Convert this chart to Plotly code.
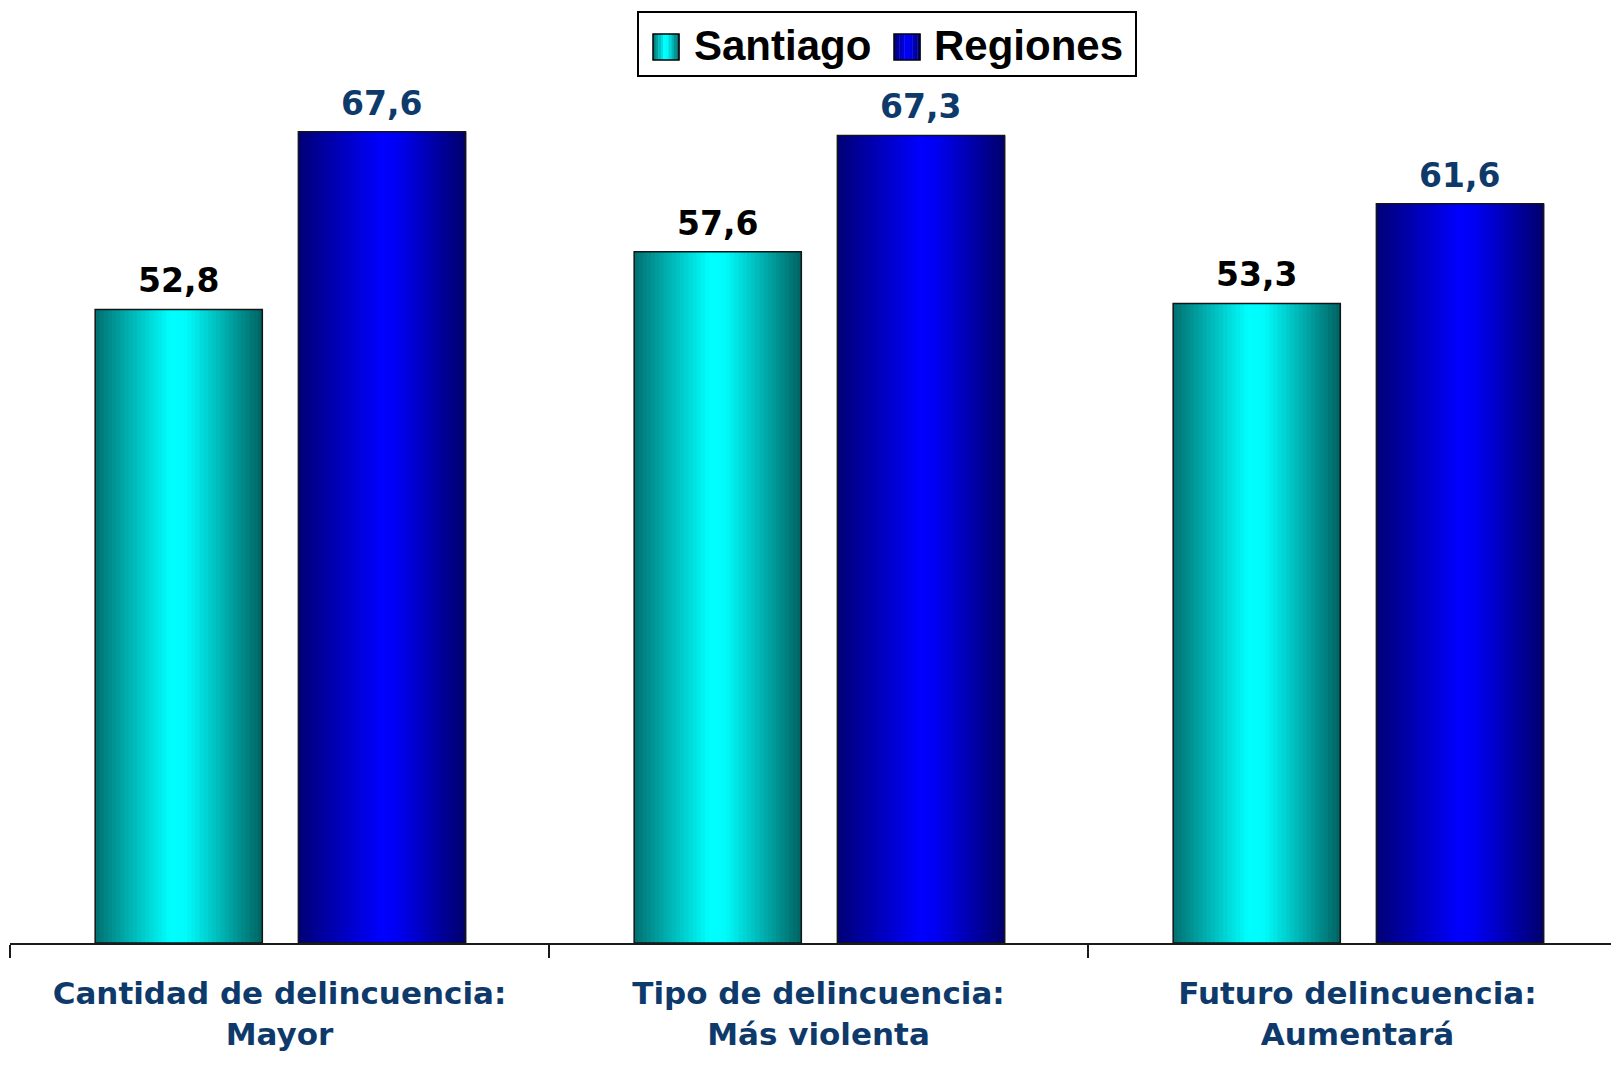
import plotly.graph_objects as go

# Data
CATEGORIES = [
    "Cantidad de delincuencia:<br>Mayor",
    "Tipo de delincuencia:<br>Más violenta",
    "Futuro delincuencia:<br>Aumentará",
]
SERIES_NAMES = ["Santiago", "Regiones"]
SANTIAGO = [52.8, 57.6, 53.3]
REGIONES = [67.6, 67.3, 61.6]

# Styles
NAVY = "#0E3A6B"
LABEL_FONT = "DejaVu Sans"
LEGEND_FONT = "Liberation Sans"
GRADIENTS = {
    "Santiago": [(0.0, (0, 112, 112)), (0.45, (0, 255, 255)),
                 (0.55, (0, 250, 250)), (1.0, (0, 98, 98))],
    "Regiones": [(0.0, (0, 0, 118)), (0.5, (0, 0, 255)),
                 (0.58, (0, 0, 245)), (1.0, (0, 0, 108))],
}
TEXT_COLORS = {"Santiago": "#000000", "Regiones": NAVY}
BAR_WIDTH = 0.31
OFFSETS = {"Santiago": -0.342, "Regiones": 0.035}
SLICES = 40

# page has an 8px body margin, so figure px = page px - 8
PAGE_PAD = 8
W, H = 1603, 1049
M_L, M_R, M_T, M_B = 2, 0, 35, 114
PLOT_W = W - M_L - M_R
PLOT_H = H - M_T - M_B
PX_PER_CAT = 539


def grad_color(stops, f):
    for (f0, c0), (f1, c1) in zip(stops, stops[1:]):
        if f0 <= f <= f1:
            t = (f - f0) / (f1 - f0) if f1 > f0 else 0
            r, g, b = (round(a + (bb - a) * t) for a, bb in zip(c0, c1))
            return f"rgb({r},{g},{b})"
    r, g, b = stops[-1][1]
    return f"rgb({r},{g},{b})"


def px_x(px):
    return (px - PAGE_PAD - M_L) / PLOT_W


def px_y(py):
    return (H - M_B - (py - PAGE_PAD)) / PLOT_H


fig = go.Figure()
annotations = []

for name, values in zip(SERIES_NAMES, [SANTIAGO, REGIONES]):
    stops = GRADIENTS[name]
    step = BAR_WIDTH / SLICES
    for i in range(SLICES):
        fig.add_trace(go.Bar(
            x=CATEGORIES, y=values,
            width=step * 1.2,
            offset=OFFSETS[name] + i * step,
            marker=dict(color=grad_color(stops, (i + 0.5) / SLICES), line_width=0),
            showlegend=False, hoverinfo="skip",
        ))
    # outline
    fig.add_trace(go.Bar(
        x=CATEGORIES, y=values, name=name,
        width=BAR_WIDTH, offset=OFFSETS[name],
        marker=dict(color="rgba(0,0,0,0)", line=dict(color="#151515", width=1.5)),
        showlegend=False,
    ))
    # value labels
    for i, v in enumerate(values):
        annotations.append(dict(
            x=i + OFFSETS[name] + BAR_WIDTH / 2, y=v, xref="x", yref="y",
            text=f"{v:.1f}".replace(".", ","),
            xanchor="center", yanchor="bottom", yshift=7,
            showarrow=False,
            font=dict(family=LABEL_FONT, size=33, color=TEXT_COLORS[name], weight="bold"),
        ))

# Manual legend (large boxed legend like the original)
shapes = [dict(
    type="rect", xref="paper", yref="paper",
    x0=px_x(638), x1=px_x(1136), y0=px_y(76), y1=px_y(12),
    line=dict(color="#000000", width=2), fillcolor="white", layer="above",
)]
legend_items = [("Santiago", 653, 692), ("Regiones", 894, 932)]
for name, sq_x, txt_x in legend_items:
    stops = GRADIENTS[name]
    n = 10
    size = 26
    for i in range(n):
        shapes.append(dict(
            type="rect", xref="paper", yref="paper",
            x0=px_x(sq_x + i * size / n), x1=px_x(sq_x + (i + 1) * size / n + 0.4),
            y0=px_y(60), y1=px_y(34),
            line_width=0, fillcolor=grad_color(stops, (i + 0.5) / n), layer="above",
        ))
    shapes.append(dict(
        type="rect", xref="paper", yref="paper",
        x0=px_x(sq_x), x1=px_x(sq_x + size), y0=px_y(60), y1=px_y(34),
        line=dict(color="#000000", width=1.5), fillcolor="rgba(0,0,0,0)", layer="above",
    ))
    annotations.append(dict(
        text=name, xref="paper", yref="paper",
        x=px_x(txt_x), y=px_y(46), xanchor="left", yanchor="middle",
        showarrow=False,
        font=dict(family=LEGEND_FONT, size=42, color="#000000", weight="bold"),
    ))

fig.update_layout(
    width=W, height=H,
    barmode="overlay",
    paper_bgcolor="white",
    plot_bgcolor="white",
    margin=dict(l=M_L, r=M_R, t=M_T, b=M_B, autoexpand=False),
    showlegend=False,
    shapes=shapes,
    annotations=annotations,
)
fig.update_xaxes(
    range=[-0.5, -0.5 + PLOT_W / PX_PER_CAT],
    showline=True, linecolor="#1a1a1a", linewidth=2,
    ticks="outside", tickson="boundaries", ticklen=13, tickwidth=1.5, tickcolor="#1a1a1a",
    tickfont=dict(family=LABEL_FONT, size=31, color=NAVY, weight="bold"),
    ticklabelstandoff=22,
    showgrid=False,
)
fig.update_yaxes(
    range=[0, 75],
    visible=False,
    showgrid=False, zeroline=False,
)

fig.write_html("out.html")
